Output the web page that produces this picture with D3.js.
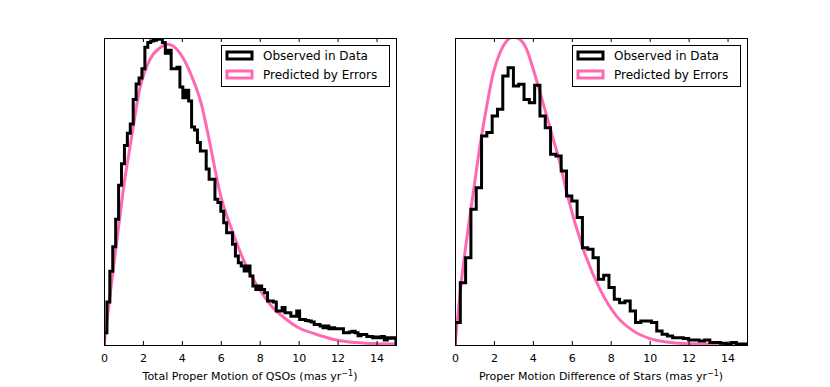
<!DOCTYPE html>
<html>
<head>
<meta charset="utf-8">
<script src="https://cdn.jsdelivr.net/npm/d3@7/dist/d3.min.js"></script>
<style>
	body { margin: 0; background: #fff; }
	text { font-family: "DejaVu Sans", sans-serif; }
</style>
</head>
<body>
<div id="chart"></div>
<script>
// Data (heights normalised to the top of each panel)
var xTicks = [0, 2, 4, 6, 8, 10, 12, 14];
var histRange = [0, 15];

// QSO total proper motion, 100 bins over 0-15
var qsoObserved = [
	0.04, 0.14, 0.24, 0.32, 0.41, 0.52, 0.59, 0.65, 0.69, 0.72,
	0.80, 0.85, 0.87, 0.90, 0.97, 0.985, 0.99, 0.993, 0.996, 0.996,
	0.985, 0.95, 0.96, 0.90, 0.90, 0.905, 0.84, 0.805, 0.83, 0.795,
	0.71, 0.70, 0.66, 0.632, 0.632, 0.573, 0.54, 0.54, 0.475, 0.464,
	0.436, 0.398, 0.366, 0.366, 0.328, 0.29, 0.268, 0.257, 0.241, 0.257,
	0.225, 0.192, 0.181, 0.192, 0.181, 0.17, 0.143, 0.143, 0.14, 0.111,
	0.111, 0.122, 0.105, 0.105, 0.094, 0.094, 0.111, 0.083, 0.083, 0.08,
	0.078, 0.075, 0.067, 0.067, 0.062, 0.056, 0.062, 0.053, 0.056, 0.053,
	0.053, 0.053, 0.04, 0.04, 0.042, 0.045, 0.04, 0.03, 0.034, 0.034,
	0.028, 0.028, 0.024, 0.026, 0.024, 0.028, 0.016, 0.024, 0.022, 0.024
];
var qsoPredicted = [
	[0, 0], [0.5, 0.26], [0.82, 0.42], [1.0, 0.51], [1.4, 0.67], [1.84, 0.835],
	[2.36, 0.93], [2.87, 0.968], [3.25, 0.98], [3.55, 0.974], [4.06, 0.935],
	[4.57, 0.865], [5.0, 0.785], [5.43, 0.66], [5.94, 0.5], [6.62, 0.366],
	[7.31, 0.257], [8.0, 0.18], [8.67, 0.122], [9.35, 0.084], [10.0, 0.056],
	[10.9, 0.035], [11.75, 0.019], [12.6, 0.01], [13.45, 0.006], [15, 0.003]
];

// Star pair proper motion difference, 55 bins over 0-15
var starObserved = [
	0.073, 0.203, 0.284, 0.442, 0.512, 0.681, 0.692, 0.746, 0.768, 0.876,
	0.903, 0.844, 0.849, 0.80, 0.789, 0.846, 0.746, 0.708, 0.621, 0.616,
	0.567, 0.485, 0.469, 0.415, 0.317, 0.312, 0.284, 0.214, 0.227, 0.187,
	0.149, 0.138, 0.143, 0.111, 0.073, 0.078, 0.078, 0.073, 0.046, 0.035,
	0.029, 0.024, 0.024, 0.021, 0.016, 0.016, 0.013, 0.016, 0.008, 0.008,
	0.006, 0.003, 0.008, 0.003, 0.003
];
var starPredicted = [
	[0, 0], [0.26, 0.17], [0.6, 0.344], [0.94, 0.496], [1.28, 0.648], [1.63, 0.778],
	[1.97, 0.887], [2.31, 0.952], [2.65, 0.99], [2.99, 1.003], [3.34, 0.995],
	[3.68, 0.963], [4.02, 0.898], [4.37, 0.822], [4.71, 0.746], [5.05, 0.67],
	[5.39, 0.594], [5.74, 0.496], [6.59, 0.312], [7.45, 0.181], [8.3, 0.094],
	[9.16, 0.046], [10.0, 0.021], [10.87, 0.01], [11.73, 0.005], [15, 0.002]
];

var legendLabels = ["Observed in Data", "Predicted by Errors"];
var seriesColors = ["#000000", "#ff69b4"];

var svg;

function init() {
	svg = d3.select("#chart")
		.append("svg")
		.attr("width", 830)
		.attr("height", 387);

	drawPanel({ left: 104, id: "qso", observed: qsoObserved, predicted: qsoPredicted,
		label: "Total Proper Motion of QSOs (mas yr" });
	drawPanel({ left: 455, id: "star", observed: starObserved, predicted: starPredicted,
		label: "Proper Motion Difference of Stars (mas yr" });
}

function drawPanel(p) {
	var w = 292, top = 38, bottom = 345;

	var x = d3.scaleLinear().domain(histRange).range([p.left, p.left + w]);
	var y = d3.scaleLinear().domain([0, 1]).range([bottom, top]);

	svg.append("clipPath").attr("id", "clip-" + p.id)
		.append("rect")
		.attr("x", p.left).attr("y", top)
		.attr("width", w).attr("height", bottom - top);

	var g = svg.append("g");
	var plot = g.append("g").attr("clip-path", "url(#clip-" + p.id + ")");

	// predicted curve
	var curve = d3.line()
		.x(function(d) { return x(d[0]); })
		.y(function(d) { return y(d[1]); })
		.curve(d3.curveMonotoneX);
	plot.append("path")
		.datum(p.predicted)
		.attr("d", curve)
		.attr("fill", "none")
		.attr("stroke", seriesColors[1])
		.attr("stroke-width", 3);

	// observed step histogram
	var n = p.observed.length;
	var binW = (histRange[1] - histRange[0]) / n;
	var pts = [[histRange[0], 0]];
	p.observed.forEach(function(v, i) { pts.push([histRange[0] + i * binW, v]); });
	pts.push([histRange[1], p.observed[n - 1]]);
	pts.push([histRange[1], 0]);
	var step = d3.line()
		.x(function(d) { return x(d[0]); })
		.y(function(d) { return y(d[1]); })
		.curve(d3.curveStepAfter);
	plot.append("path")
		.datum(pts)
		.attr("d", step)
		.attr("fill", "none")
		.attr("stroke", seriesColors[0])
		.attr("stroke-width", 3)
		.attr("stroke-linejoin", "miter");

	// bottom axis, ticks inward
	var ax = g.append("g")
		.attr("transform", "translate(0," + bottom + ")")
		.call(d3.axisBottom(x).tickValues(xTicks).tickSizeInner(-4).tickSizeOuter(0).tickPadding(9));
	ax.select(".domain").remove();
	ax.selectAll("text").attr("font-size", 11).attr("font-family", "DejaVu Sans").attr("fill", "#000");

	// top ticks
	var axTop = g.append("g")
		.attr("transform", "translate(0," + top + ")")
		.call(d3.axisTop(x).tickValues(xTicks).tickSizeInner(-4).tickSizeOuter(0).tickFormat(""));
	axTop.select(".domain").remove();

	// frame
	g.append("rect")
		.attr("x", p.left + 0.5).attr("y", top + 0.5)
		.attr("width", w).attr("height", bottom - top)
		.attr("fill", "none")
		.attr("stroke", "#000")
		.attr("stroke-width", 1);

	// x label
	var t = g.append("text")
		.attr("x", p.left + w / 2)
		.attr("y", 380)
		.attr("text-anchor", "middle")
		.attr("font-size", 11)
		.text(p.label);
	t.append("tspan").attr("font-size", 8).attr("dy", -4).text("\u22121");
	t.append("tspan").attr("dy", 4).text(")");

	// legend
	var lx = p.left + w - 175, ly = 45;
	var leg = g.append("g");
	leg.append("rect")
		.attr("x", lx + 0.5).attr("y", ly + 0.5)
		.attr("width", 168).attr("height", 41)
		.attr("fill", "#fff")
		.attr("stroke", "#000")
		.attr("stroke-width", 1);
	legendLabels.forEach(function(lab, i) {
		var cy = ly + 10 + i * 19;
		leg.append("rect")
			.attr("x", lx + 6).attr("y", cy - 3)
			.attr("width", 25).attr("height", 7)
			.attr("fill", "#fff")
			.attr("stroke", seriesColors[i])
			.attr("stroke-width", 3);
		leg.append("text")
			.attr("x", lx + 42).attr("y", cy + 4.5)
			.attr("font-size", 12)
			.text(lab);
	});
}

window.onload = init;
</script>
</body>
</html>
